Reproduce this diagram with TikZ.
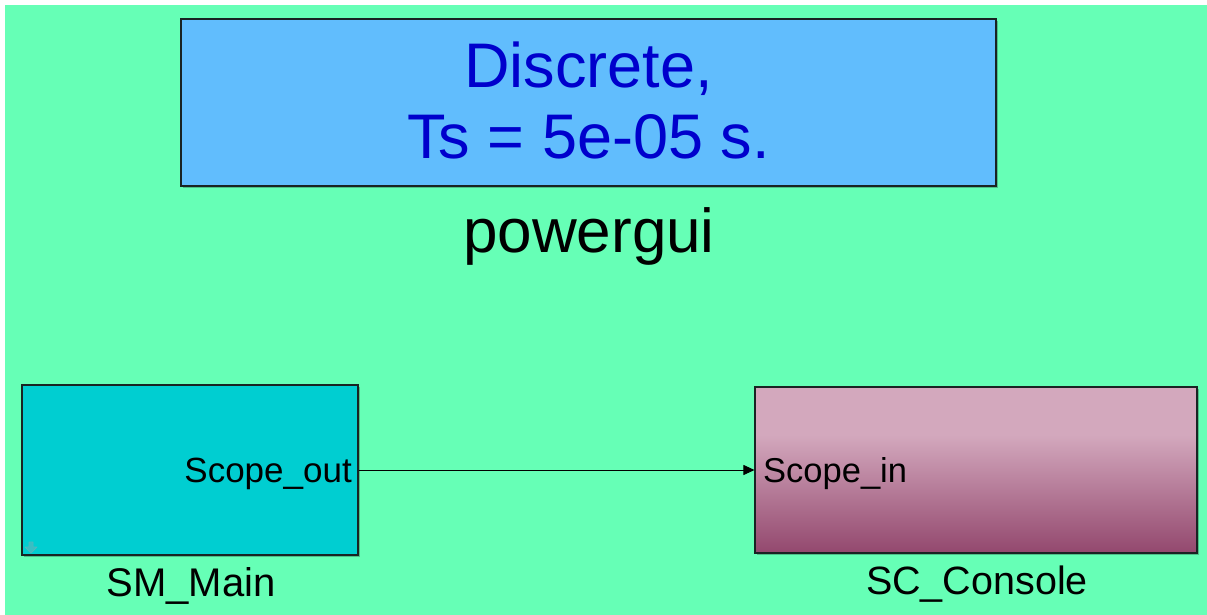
\documentclass[tikz,border=0pt]{standalone}
\usepackage{fontspec}
\setmainfont{Liberation Sans}
\usetikzlibrary{arrows.meta}
\definecolor{bggreen}{RGB}{102,255,182}
\definecolor{pgblue}{RGB}{97,189,253}
\definecolor{txtblue}{RGB}{0,0,204}
\definecolor{smcyan}{RGB}{0,206,209}
\definecolor{sctop}{RGB}{211,168,189}
\definecolor{scmid}{RGB}{190,132,160}
\definecolor{scbot}{RGB}{147,72,110}
\definecolor{edge}{RGB}{25,35,35}
\definecolor{icon}{RGB}{80,185,190}
\tikzset{
  blk/.style={draw=edge, line width=1.1pt, inner sep=0pt},
  shadowbox/.style={fill=black, opacity=0.25},
  lbl/.style={anchor=base, inner sep=0pt, text=black},
  wire/.style={draw=black, line width=0.8pt, -{Triangle[length=11pt,width=10pt]}}
}
\begin{document}
\begin{tikzpicture}[x=1pt,y=-1pt]
\useasboundingbox (0,0) rectangle (1207,615);
\fill[white] (0,0) rectangle (1207,615);
\fill[bggreen] (5,5) rectangle (1207,615);
% powergui block
\fill[shadowbox] (183,21) rectangle (998,188);
\node[blk, fill=pgblue, minimum width=815pt, minimum height=167pt] (pg) at (588.5,102.5) {};
\node[lbl, text=txtblue, font=\fontsize{63}{70}\selectfont] (pgl1) at (588.5,88) {Discrete,};
\node[lbl, text=txtblue, font=\fontsize{63}{70}\selectfont] (pgl2) at (588.5,158) {Ts = 5e-05 s.};
\node[lbl, font=\fontsize{62}{70}\selectfont] (pgname) at (589,252) {powergui};
% SM_Main
\fill[shadowbox] (24,387) rectangle (360,557);
\node[blk, fill=smcyan, minimum width=336pt, minimum height=170pt] (sm) at (190,470) {};
\draw[icon, fill=icon!70!smcyan, line width=0.8pt, line join=round] (29,542) -- (33,542) -- (33,547) -- (37,547) -- (31,553) -- (25,547) -- (29,547) -- cycle;
\node[lbl, anchor=base east, font=\fontsize{35}{40}\selectfont] (smport) at (352,482) {Scope\_out};
\node[lbl, font=\fontsize{40}{46}\selectfont] (smname) at (191,596) {SM\_Main};
% SC_Console
\fill[shadowbox] (757,389) rectangle (1199,555);
\fill[sctop] (755,387) rectangle (1197,435);
\shade[top color=sctop, bottom color=scbot] (755,435) rectangle (1197,553);
\node[blk, minimum width=442pt, minimum height=166pt] (sc) at (976,470) {};
\node[lbl, anchor=base west, font=\fontsize{34.5}{40}\selectfont] (scport) at (763,482) {Scope\_in};
\node[lbl, font=\fontsize{39.5}{46}\selectfont] (scname) at (977,594) {SC\_Console};
% connector
\draw[wire] (sm.east) -- (sc.west);
\end{tikzpicture}
\end{document}
